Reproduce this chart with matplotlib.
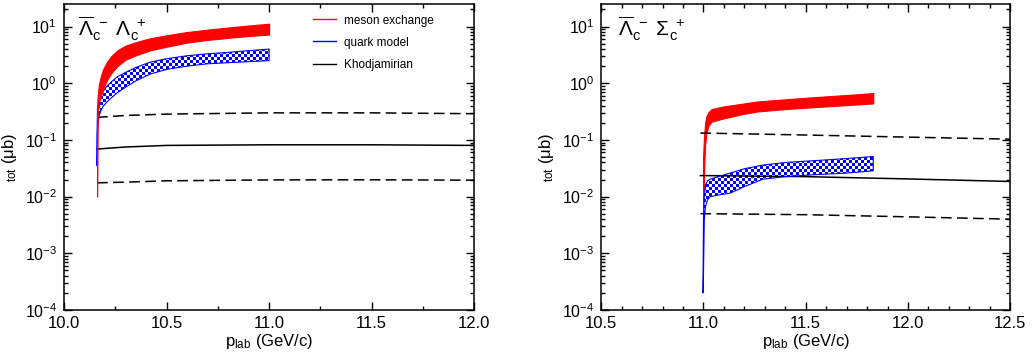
import numpy as np
import matplotlib
matplotlib.use('Agg')
from matplotlib import pyplot as plt
from matplotlib import image as mimage
from matplotlib.colors import ListedColormap
from matplotlib.lines import Line2D
from matplotlib.ticker import LogLocator, MultipleLocator, NullFormatter

plt.rcParams['font.family'] = ['Liberation Sans', 'DejaVu Sans']
plt.rcParams['mathtext.fontset'] = 'custom'
plt.rcParams['mathtext.rm'] = 'Liberation Sans'
plt.rcParams['mathtext.it'] = 'Liberation Sans'
plt.rcParams['mathtext.bf'] = 'Liberation Sans:bold'

# ---- left panel: anti-Lambda_c- Lambda_c+ ----
p_meson_ll = [10.161, 10.164, 10.17, 10.18, 10.19, 10.21, 10.23, 10.26, 10.3, 10.35,
              10.42, 10.5, 10.6, 10.7, 10.8, 10.9, 11.0]
meson_ll_lo = [0.01, 0.3, 0.45, 0.6, 0.77, 1.15, 1.5, 2.0, 2.6, 3.1,
               3.8, 4.4, 5.2, 5.8, 6.3, 6.8, 7.2]
meson_ll_hi = [0.38, 0.6, 0.95, 1.35, 1.75, 2.4, 3.0, 3.8, 4.6, 5.3,
               6.2, 7.0, 8.0, 8.8, 9.6, 10.4, 11.2]

p_quark_ll = [10.161, 10.163, 10.17, 10.18, 10.19, 10.21, 10.23, 10.26, 10.3, 10.35,
              10.42, 10.5, 10.6, 10.7, 10.8, 10.9, 11.0]
quark_ll_lo = [0.035, 0.14, 0.26, 0.33, 0.39, 0.47, 0.55, 0.68, 0.85, 1.1,
               1.45, 1.75, 2.0, 2.2, 2.3, 2.4, 2.5]
quark_ll_hi = [0.13, 0.35, 0.48, 0.6, 0.71, 0.9, 1.05, 1.3, 1.55, 1.9,
               2.35, 2.7, 3.05, 3.3, 3.5, 3.75, 4.0]

p_khod_ll = [10.161, 10.3, 10.5, 11.0, 11.5, 12.0]
khod_ll = [0.069, 0.075, 0.080, 0.082, 0.082, 0.080]
khod_ll_hi = [0.25, 0.27, 0.285, 0.30, 0.30, 0.29]
khod_ll_lo = [0.0175, 0.018, 0.019, 0.0197, 0.0198, 0.0195]

# ---- right panel: anti-Lambda_c- Sigma_c+ ----
p_meson_ls = [10.998, 11.003, 11.008, 11.014, 11.025, 11.04, 11.07, 11.1, 11.18,
              11.26, 11.4, 11.55, 11.7, 11.83]
meson_ls_lo = [0.004, 0.03, 0.08, 0.13, 0.18, 0.21, 0.225, 0.24, 0.28,
               0.316, 0.35, 0.38, 0.41, 0.44]
meson_ls_hi = [0.05, 0.12, 0.2, 0.26, 0.31, 0.35, 0.37, 0.39, 0.43,
               0.475, 0.52, 0.57, 0.62, 0.67]

p_quark_ls = [10.998, 11.0, 11.004, 11.01, 11.02, 11.033, 11.08, 11.13, 11.2,
              11.29, 11.4, 11.54, 11.7, 11.83]
quark_ls_lo = [0.0002, 0.0004, 0.004, 0.0067, 0.0088, 0.01, 0.0108, 0.0115, 0.015,
               0.0203, 0.0225, 0.0243, 0.026, 0.0285]
quark_ls_hi = [0.0004, 0.004, 0.01, 0.016, 0.019, 0.0203, 0.023, 0.026, 0.031,
               0.036, 0.040, 0.043, 0.047, 0.051]

p_khod_ls = [10.985, 11.0, 11.5, 12.0, 12.5]
khod_ls = [0.0235, 0.0235, 0.0225, 0.0205, 0.0185]
khod_ls_hi = [0.132, 0.132, 0.122, 0.112, 0.103]
khod_ls_lo = [0.005, 0.005, 0.0048, 0.0044, 0.004]


def checker_band(ax, x, lo, hi):
  band = ax.fill_between(x, lo, hi, facecolor='none', edgecolor='blue', lw=0.8, zorder=3)
  ny, nx = 102, 137
  board = (np.add.outer(np.arange(ny), np.arange(nx)) % 2).astype(float)
  im = mimage.AxesImage(ax, cmap=ListedColormap(['white', 'blue']),
                        interpolation='nearest', extent=(0, 1, 0, 1),
                        transform=ax.transAxes, zorder=2)
  im.set_data(board)
  im.set_clim(0, 1)
  ax.add_image(im)
  im.set_clip_path(band.get_paths()[0], transform=band.get_transform())


def style_axes(ax, xlim, minor_step):
  ax.set_yscale('log')
  ax.set_xlim(*xlim)
  ax.set_ylim(1e-4, 25)
  ax.xaxis.set_major_locator(MultipleLocator(0.5))
  ax.xaxis.set_minor_locator(MultipleLocator(minor_step))
  ax.xaxis.set_major_formatter(plt.FuncFormatter(lambda v, pos: f'{v:.1f}'))
  ax.yaxis.set_major_locator(LogLocator(base=10, numticks=10))
  ax.yaxis.set_minor_locator(LogLocator(base=10, subs=np.arange(2, 10), numticks=20))
  ax.yaxis.set_minor_formatter(NullFormatter())
  ax.tick_params(which='both', direction='in', top=True, right=True, width=1)
  ax.tick_params(which='major', length=6)
  ax.tick_params(which='minor', length=3)
  ax.tick_params(axis='x', labelsize=12, pad=4)
  ax.tick_params(axis='y', labelsize=11.5, pad=5)
  for s in ax.spines.values():
    s.set_linewidth(1.1)
  ax.set_xlabel(r'p$_{\mathrm{lab}}$ (GeV/c)', fontsize=12, labelpad=1)
  ax.set_ylabel(r'$_{\mathrm{tot}}$ ($\mu$b)', fontsize=12, labelpad=4)


fig = plt.figure(figsize=(10.33, 3.58), dpi=100)
ax1 = fig.add_axes([0.062, 0.134, 0.397, 0.855])
ax2 = fig.add_axes([0.582, 0.134, 0.396, 0.855])

dash = (0, (7, 3.5))

ax1.fill_between(p_meson_ll, meson_ll_lo, meson_ll_hi, facecolor='red', edgecolor='red', lw=0.8, zorder=4)
checker_band(ax1, p_quark_ll, quark_ll_lo, quark_ll_hi)
ax1.plot(p_khod_ll, khod_ll, color='black', lw=1.1)
ax1.plot(p_khod_ll, khod_ll_hi, color='black', lw=1.1, linestyle=dash)
ax1.plot(p_khod_ll, khod_ll_lo, color='black', lw=1.1, linestyle=dash)
style_axes(ax1, (10.0, 12.0), 0.25)
ax1.text(0.035, 0.965, r'$\overline{\Lambda}_{\mathrm{c}}^{\ -}\ \Lambda_{\mathrm{c}}^{\ +}$',
         transform=ax1.transAxes, fontsize=15, va='top', ha='left')

handles = [Line2D([], [], color='red', lw=1),
           Line2D([], [], color='blue', lw=1),
           Line2D([], [], color='black', lw=1)]
ax1.legend(handles, ['meson exchange', 'quark model', 'Khodjamirian'],
           loc='upper left', bbox_to_anchor=(0.58, 1.0), frameon=False,
           fontsize=8.5, handlelength=2.0, handletextpad=0.7, labelspacing=0.85)

ax2.fill_between(p_meson_ls, meson_ls_lo, meson_ls_hi, facecolor='red', edgecolor='red', lw=0.8, zorder=1.5)
checker_band(ax2, p_quark_ls, quark_ls_lo, quark_ls_hi)
ax2.plot(p_khod_ls, khod_ls, color='black', lw=1.1)
ax2.plot(p_khod_ls, khod_ls_hi, color='black', lw=1.1, linestyle=dash)
ax2.plot(p_khod_ls, khod_ls_lo, color='black', lw=1.1, linestyle=dash)
style_axes(ax2, (10.5, 12.5), 0.1)
ax2.text(0.04, 0.965, r'$\overline{\Lambda}_{\mathrm{c}}^{\ -}\ \Sigma_{\mathrm{c}}^{\ +}$',
         transform=ax2.transAxes, fontsize=15, va='top', ha='left')

fig.savefig('out.png', dpi=100)
